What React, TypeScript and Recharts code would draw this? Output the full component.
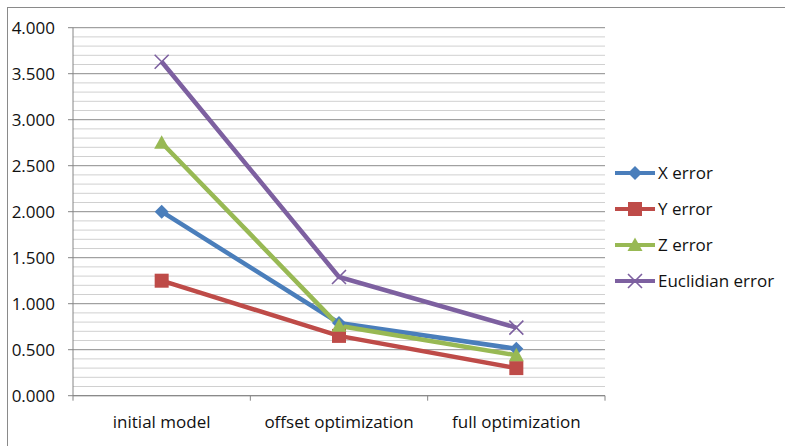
import { LineChart, Line, XAxis, YAxis, CartesianGrid } from "recharts";

const categories = ["initial model", "offset optimization", "full optimization"];
const xError = [2.0, 0.79, 0.51];
const yError = [1.25, 0.65, 0.3];
const zError = [2.75, 0.76, 0.44];
const euclidError = [3.63, 1.29, 0.74];

const majorTicks = [0, 0.5, 1, 1.5, 2, 2.5, 3, 3.5, 4];
const minorTicks = [0.1, 0.2, 0.3, 0.4, 0.6, 0.7, 0.8, 0.9, 1.1, 1.2, 1.3, 1.4, 1.6, 1.7, 1.8, 1.9, 2.1, 2.2, 2.3, 2.4, 2.6, 2.7, 2.8, 2.9, 3.1, 3.2, 3.3, 3.4, 3.6, 3.7, 3.8, 3.9];
const Y_MAX = 4;

const FONT = '"Open Sans", sans-serif';
const AXIS_COLOR = "#868686";
const PLOT_W = 532;
const HALF_BAND = PLOT_W / categories.length / 2;

const series = [
  { key: "x", name: "X error", color: "#4a7ebb", shape: "diamond" },
  { key: "y", name: "Y error", color: "#be4b48", shape: "square" },
  { key: "z", name: "Z error", color: "#98b954", shape: "triangle" },
  { key: "e", name: "Euclidian error", color: "#7d60a0", shape: "cross" },
];

const data = categories.map((c, i) => ({
  cat: c,
  x: xError[i],
  y: yError[i],
  z: zError[i],
  e: euclidError[i],
}));

function Marker({ cx, cy, shape, color }: any) {
  if (cx == null || cy == null) return null;
  if (shape === "diamond") {
    const r = 7;
    return <path d={`M${cx},${cy - r}L${cx + r},${cy}L${cx},${cy + r}L${cx - r},${cy}Z`} fill={color} />;
  }
  if (shape === "square") {
    const r = 7;
    return <rect x={cx - r} y={cy - r} width={r * 2} height={r * 2} fill={color} />;
  }
  if (shape === "triangle") {
    const r = 7.5;
    return <path d={`M${cx},${cy - r}L${cx + r},${cy + r * 0.8}L${cx - r},${cy + r * 0.8}Z`} fill={color} />;
  }
  const r = 7;
  return (
    <path
      d={`M${cx - r},${cy - r}L${cx + r},${cy + r}M${cx + r},${cy - r}L${cx - r},${cy + r}`}
      stroke={color}
      strokeWidth={1.6}
      fill="none"
    />
  );
}

function CategoryTick(props: any) {
  const { x, y, payload, index } = props;
  const axisY = y - 8;
  return (
    <g>
      <line x1={x - HALF_BAND} y1={axisY} x2={x - HALF_BAND} y2={axisY + 5} stroke={AXIS_COLOR} />
      {index === categories.length - 1 && (
        <line x1={x + HALF_BAND} y1={axisY} x2={x + HALF_BAND} y2={axisY + 5} stroke={AXIS_COLOR} />
      )}
      <text x={x} y={axisY + 32} textAnchor="middle" fontSize={17} fill="#111" fontFamily={FONT}>
        {payload.value}
      </text>
    </g>
  );
}

// grid rows at given values; falls back to the plot offset if the axis scale isn't callable
const gridGen = (values: number[]) => (props: any) => {
  const scale = props?.yAxis?.scale;
  if (typeof scale === "function") return values.map((v) => scale(v));
  if (scale && typeof scale.map === "function") return values.map((v) => scale.map(v));
  const off = props?.offset || { top: 27.7, height: 368 };
  return values.map((v) => off.top + off.height * (1 - v / Y_MAX));
};

export default function App() {
  return (
    <div style={{ position: "absolute", left: 0, top: 0, width: 785, height: 446, background: "#fff", overflow: "hidden" }}>
      <div
        style={{
          position: "absolute",
          left: 7,
          top: 7,
          width: 800,
          height: 460,
          borderLeft: "1.5px solid #8a8a8a",
          borderTop: "1.5px solid #8a8a8a",
        }}
      />
      <div style={{ position: "absolute", left: 0, top: 0 }}>
        <LineChart width={785} height={446} data={data} margin={{ top: 27.7, right: 180, bottom: 0, left: 0 }}>
          <CartesianGrid vertical={false} horizontalCoordinatesGenerator={gridGen(minorTicks)} stroke="#d0d0d0" strokeWidth={1} />
          <CartesianGrid vertical={false} horizontalCoordinatesGenerator={gridGen(majorTicks)} stroke="#8c8c8c" strokeWidth={1} />
          <XAxis
            dataKey="cat"
            height={50.3}
            stroke={AXIS_COLOR}
            tickLine={false}
            tick={<CategoryTick />}
            interval={0}
            padding={{ left: HALF_BAND, right: HALF_BAND }}
          />
          <YAxis
            width={73}
            domain={[0, Y_MAX]}
            ticks={majorTicks}
            stroke={AXIS_COLOR}
            tickSize={5}
            tickMargin={13}
            tickFormatter={(v: number) => v.toFixed(3)}
            tick={{ fill: "#111", fontSize: 17, fontFamily: FONT }}
            allowDataOverflow
          />
          {series.map((s) => (
            <Line
              key={s.key}
              dataKey={s.key}
              name={s.name}
              stroke={s.color}
              strokeWidth={4.5}
              isAnimationActive={false}
              dot={(p: any) => <Marker key={`${s.key}-${p.index}`} cx={p.cx} cy={p.cy} shape={s.shape} color={s.color} />}
              activeDot={false}
            />
          ))}
        </LineChart>
      </div>
      <div style={{ position: "absolute", left: 613, top: 155 }}>
        <svg width={172} height={145}>
          {series.map((s, i) => {
            const cy = 18 + i * 36;
            return (
              <g key={s.key}>
                <line x1={2} y1={cy} x2={42} y2={cy} stroke={s.color} strokeWidth={4} />
                <Marker cx={22} cy={cy} shape={s.shape} color={s.color} />
                <text x={45} y={cy + 6} fontSize={17} fill="#111" fontFamily={FONT}>
                  {s.name}
                </text>
              </g>
            );
          })}
        </svg>
      </div>
    </div>
  );
}
